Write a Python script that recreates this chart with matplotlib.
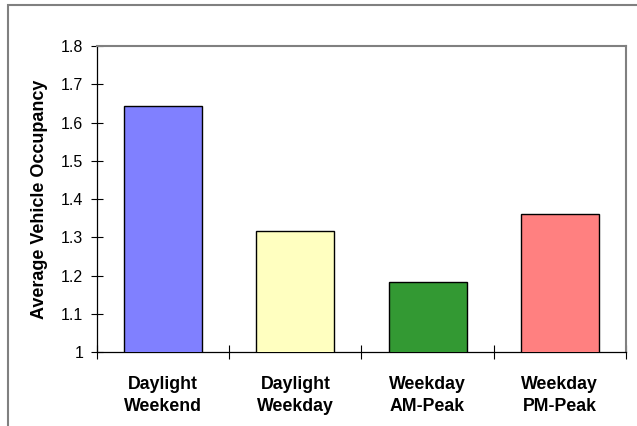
import matplotlib.pyplot as plt
from matplotlib.patches import Rectangle

plt.rcParams['font.family'] = ['Liberation Sans', 'DejaVu Sans']

categories = ['Daylight\nWeekend', 'Daylight\nWeekday', 'Weekday\nAM-Peak', 'Weekday\nPM-Peak']
occupancy = [1.643, 1.316, 1.183, 1.361]
bar_colors = ['#8080FF', '#FFFFC0', '#339933', '#FF8080']
yticks = [1, 1.1, 1.2, 1.3, 1.4, 1.5, 1.6, 1.7, 1.8]

fig = plt.figure(figsize=(6.37, 4.26), dpi=100)
ax = fig.add_axes([0.1523, 0.1737, 0.8304, 0.7183])

x = range(len(categories))
ax.bar(x, occupancy, width=0.59, color=bar_colors, edgecolor='black', linewidth=1.0, zorder=3)

ax.set_xlim(-0.5, len(categories) - 0.5)
ax.set_ylim(1, 1.8)
ax.set_yticks(yticks)
ax.set_yticklabels(['1'] + [f'{v:.1f}' for v in yticks[1:]], fontsize=11.5)
ax.set_ylabel('Average Vehicle Occupancy', fontsize=13, fontweight='bold', labelpad=9)

# ticks at category boundaries, labels centred under bars
ax.set_xticks([i - 0.5 for i in range(len(categories) + 1)])
ax.set_xticklabels([])
ax.set_xticks(list(x), minor=True)
ax.set_xticklabels(categories, minor=True, fontsize=12.8, fontweight='bold', linespacing=1.45)
ax.tick_params(axis='x', which='minor', length=0, pad=17)
ax.tick_params(axis='x', which='major', direction='inout', length=10, width=0.8)
ax.tick_params(axis='y', direction='inout', length=8, width=0.8, pad=6)

for s in ['top', 'right']:
    ax.spines[s].set_color('#808080')
    ax.spines[s].set_linewidth(1.5)
for s in ['left', 'bottom']:
    ax.spines[s].set_color('black')
    ax.spines[s].set_linewidth(0.9)

# outer chart border (only top and left visible in the cropped picture)
fig.patches.append(Rectangle((8 / 637, -0.1), 1.2, (421 / 426) + 0.1, transform=fig.transFigure,
                             fill=False, edgecolor='#808080', linewidth=1.5))

fig.savefig('out.png', dpi=100)
